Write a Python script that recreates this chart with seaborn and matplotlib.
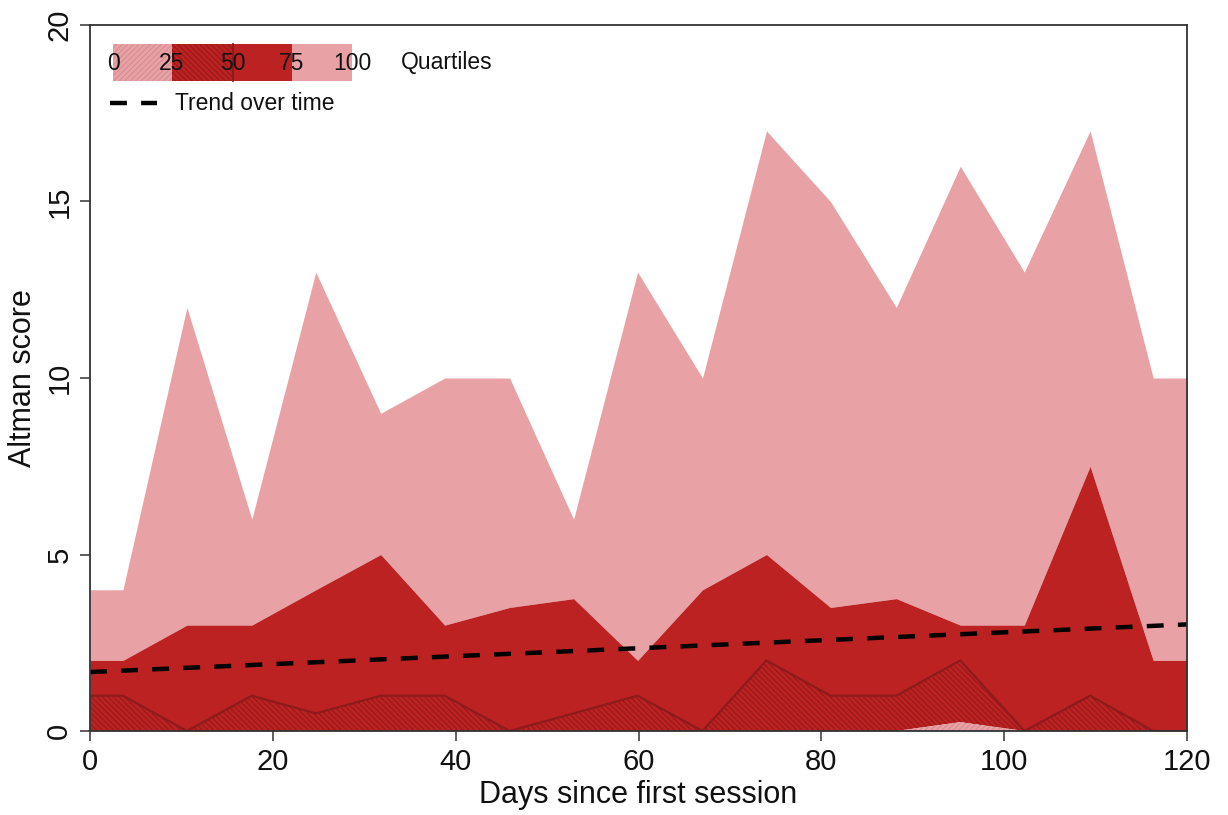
import matplotlib
matplotlib.use("Agg")
import matplotlib.pyplot as plt
import seaborn as sns
import numpy as np
import pandas as pd
from matplotlib.patches import Rectangle
from matplotlib.lines import Line2D

# ---------------- data ----------------
days = [0, 3.6, 10.6, 17.7, 24.7, 31.8, 38.8, 45.9, 52.9, 59.9, 67.0, 74.0,
        81.0, 88.2, 95.2, 102.2, 109.4, 116.3, 120]
q0 = [0, 0, 0, 0, 0, 0, 0, 0, 0, 0, 0, 0, 0, 0, 0, 0, 0, 0, 0]
q25 = [0, 0, 0, 0, 0, 0, 0, 0, 0, 0, 0, 0, 0, 0, 0.25, 0, 0, 0, 0]
q50 = [1, 1, 0, 1, 0.5, 1, 1, 0, 0.5, 1, 0, 2, 1, 1, 2, 0, 1, 0, 0]
q75 = [2, 2, 3, 3, 4, 5, 3, 3.5, 3.75, 2, 4, 5, 3.5, 3.75, 3, 3, 7.5, 2, 2]
q100 = [4, 4, 12, 6, 13, 9, 10, 10, 6, 13, 10, 17, 15, 12, 16, 13, 17, 10, 10]
trend_days = [0, 120]
trend_score = [1.67, 3.02]
quartile_labels = ["0", "25", "50", "75", "100"]
x_ticks = [0, 20, 40, 60, 80, 100, 120]
y_ticks = [0, 5, 10, 15, 20]

# ---------------- style ----------------
sns.set_theme(style="white")
plt.rcParams["font.family"] = ["Liberation Sans", "DejaVu Sans"]
plt.rcParams["hatch.linewidth"] = 0.7

LIGHT = "#E8A2A5"
RED = "#BC2222"
DARK_HATCH = "#921818"
LIGHT_HATCH = "#D48A8E"
OUTLINE = "#8E1A1A"
FRAME = "#333333"
DARK_PATTERN = "\\" * 6
LIGHT_PATTERN = "/" * 6

fig = plt.figure(figsize=(12.28, 8.15), dpi=100)
ax = fig.add_axes([90 / 1228, 1 - 731 / 815, 1097 / 1228, 706 / 815])

ax.fill_between(days, q75, q100, facecolor=LIGHT, lw=0)
ax.fill_between(days, q50, q75, facecolor=RED, lw=0)
ax.fill_between(days, q25, q50, facecolor=RED, edgecolor=DARK_HATCH,
                hatch=DARK_PATTERN, lw=0)
ax.fill_between(days, q0, q25, facecolor=LIGHT, edgecolor=LIGHT_HATCH,
                hatch=LIGHT_PATTERN, lw=0)
sns.lineplot(x=days, y=q50, color=OUTLINE, lw=1.6, ax=ax)
sns.lineplot(x=trend_days, y=trend_score, color="black", lw=3.2,
             linestyle=(0, (3.8, 3.2)), ax=ax)

ax.set_xlim(0, 120)
ax.set_ylim(0, 20)
ax.set_xticks(x_ticks)
ax.set_yticks(y_ticks)
ax.set_xticklabels([str(v) for v in x_ticks])
ax.set_yticklabels([str(v) for v in y_ticks], rotation=90, va="center")
ax.tick_params(axis="both", which="both", bottom=True, left=True,
               direction="out", length=7, width=1.1, color=FRAME,
               labelsize=21, pad=5, labelcolor="#111111")
for s in ax.spines.values():
    s.set_visible(True)
    s.set_color(FRAME)
    s.set_linewidth(1.3)
ax.set_xlabel("Days since first session", fontsize=22, labelpad=3, color="#111111")
ax.set_ylabel("Altman score", fontsize=22, labelpad=5, color="#111111")


# ---------------- legend (drawn by hand) ----------------
def fx(px):
    return (px - 90) / 1097


def fy(py):
    return (731 - py) / 706


edges_px = [113, 172, 233, 292, 352]
box_styles = [
    dict(facecolor=LIGHT, edgecolor=LIGHT_HATCH, hatch=LIGHT_PATTERN, lw=0),
    dict(facecolor=RED, edgecolor=DARK_HATCH, hatch=DARK_PATTERN, lw=0),
    dict(facecolor=RED, lw=0),
    dict(facecolor=LIGHT, lw=0),
]
y0, y1 = fy(81), fy(44)
for i, st in enumerate(box_styles):
    ax.add_patch(Rectangle((fx(edges_px[i]), y0), fx(edges_px[i + 1]) - fx(edges_px[i]),
                           y1 - y0, transform=ax.transAxes, zorder=5, **st))
ax.add_line(Line2D([fx(edges_px[2])] * 2, [y0, y1], transform=ax.transAxes,
                   color=OUTLINE, lw=1.5, zorder=6))
for e, lab in zip(edges_px, quartile_labels):
    ax.text(fx(e), fy(63), lab, transform=ax.transAxes, ha="center",
            va="center", fontsize=16.5, zorder=7, color="#111111")
ax.text(fx(401), fy(63), "Quartiles", transform=ax.transAxes, ha="left",
        va="center", fontsize=16.5, zorder=7, color="#111111")
ax.add_line(Line2D([fx(110), fx(157)], [fy(103)] * 2, transform=ax.transAxes,
                   color="black", lw=3.2, linestyle=(0, (3.8, 3.2)), zorder=7))
ax.text(fx(175), fy(103), "Trend over time", transform=ax.transAxes,
        ha="left", va="center", fontsize=16.5, zorder=7, color="#111111")

fig.savefig("out.png", dpi=100)
